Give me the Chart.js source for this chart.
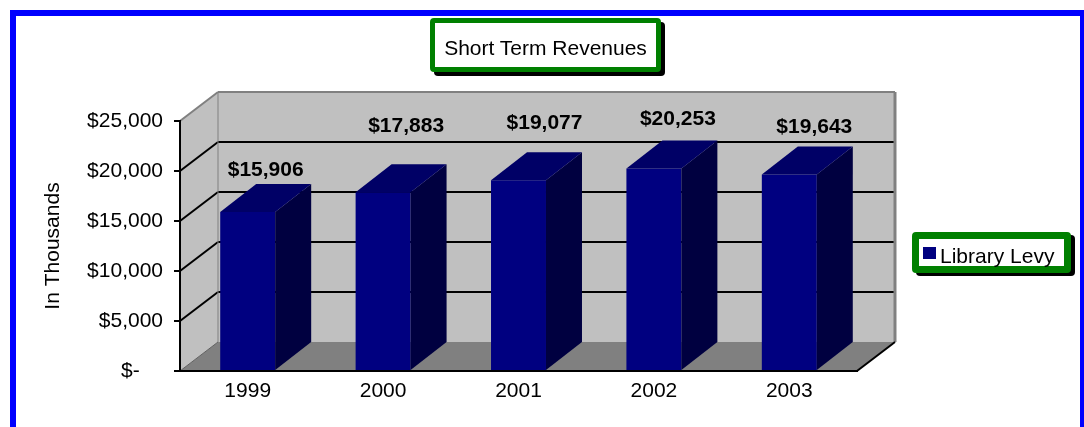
<!DOCTYPE html>
<html>
<head>
<meta charset="utf-8">
<script src="https://cdn.jsdelivr.net/npm/chart.js@4"></script>
<style>
  html, body { margin: 0; padding: 0; background: #fff; overflow: hidden; }
  #wrap { position: relative; width: 1084px; height: 427px; font-family: "Liberation Sans", Arial, sans-serif; }
  #frame { position: absolute; left: 10px; top: 10px; width: 1076px; height: 500px; box-sizing: border-box; border: 6px solid #0000ff; }
  #chart { position: absolute; left: 0; top: 0; }
  #title { position: absolute; left: 430px; top: 18px; width: 231px; height: 54px; box-sizing: border-box;
    border: 5px solid #008000; border-radius: 4px; background: #fff; box-shadow: 4px 4px 0 #000;
    font-size: 21px; line-height: 21px; color: #000; }
  #title span { position: absolute; left: 0; right: 0; top: 14px; text-align: center; white-space: nowrap; }
  #legend { position: absolute; left: 912px; top: 232px; width: 159px; height: 41px; box-sizing: border-box;
    border: 7px solid #008000; border-radius: 4px; background: #fff; box-shadow: 4px 3px 0 #000;
    font-size: 21px; line-height: 21px; color: #000; }
  #legend .sw { position: absolute; left: 4px; top: 8px; width: 13px; height: 12px; background: #000080; }
  #legend .lb { position: absolute; left: 21px; top: 6px; white-space: nowrap; }
</style>
</head>
<body>
<div id="wrap">
  <div id="frame"></div>
  <canvas id="chart" width="1084" height="427"></canvas>
  <div id="title"><span id="titleText"></span></div>
  <div id="legend"><div class="sw"></div><span class="lb" id="legendText"></span></div>
</div>
<script>
const chartTitle = "Short Term Revenues";
const categories = ["1999", "2000", "2001", "2002", "2003"];
const seriesName = "Library Levy";
const libraryLevy = [15906, 17883, 19077, 20253, 19643];
const yTicks = [0, 5000, 10000, 15000, 20000, 25000];

// hand placed value labels (pixel offset from the bar top)
const labelDx = [18, 23, 26, 24, 25];
const labelDy = [-42, -66, -57, -49, -47];

const wallDepth = { dx: 38, dy: -29 };
const barDepth = { dx: 36, dy: -28 };

document.getElementById("titleText").textContent = chartTitle;
document.getElementById("legendText").textContent = seriesName;

Chart.defaults.font.family = "'Liberation Sans', Arial, sans-serif";
Chart.defaults.color = "#000";

const money = (v) => v === 0 ? "$-\u2007\u2007" : "$" + v.toLocaleString("en-US");

const poly = (ctx, pts, fill) => {
  ctx.beginPath();
  ctx.moveTo(pts[0][0], pts[0][1]);
  for (let i = 1; i < pts.length; i++) ctx.lineTo(pts[i][0], pts[i][1]);
  ctx.closePath();
  ctx.fillStyle = fill;
  ctx.fill();
};

const line = (ctx, x1, y1, x2, y2, color, w) => {
  ctx.beginPath();
  ctx.moveTo(x1, y1);
  ctx.lineTo(x2, y2);
  ctx.strokeStyle = color;
  ctx.lineWidth = w;
  ctx.stroke();
};

const walls = {
  id: "walls",
  beforeDraw(chart) {
    const ctx = chart.ctx;
    const { left: L, right: R, top: T, bottom: B } = chart.chartArea;
    const { dx, dy } = wallDepth;
    const ys = chart.scales.y;
    ctx.save();
    poly(ctx, [[L + dx, T + dy], [R + dx, T + dy], [R + dx, B + dy], [L + dx, B + dy]], "#c0c0c0");
    poly(ctx, [[L, B], [L, T], [L + dx, T + dy], [L + dx, B + dy]], "#c0c0c0");
    poly(ctx, [[L, B], [R, B], [R + dx, B + dy], [L + dx, B + dy]], "#808080");
    yTicks.forEach((v) => {
      if (v === 0 || v === yTicks[yTicks.length - 1]) return;
      const y = ys.getPixelForValue(v);
      line(ctx, L + dx, y + dy, R + dx, y + dy, "#000", 2);
      line(ctx, L, y, L + dx, y + dy, "#000", 2);
    });
    line(ctx, L, T, L + dx, T + dy, "#808080", 2);
    line(ctx, L + dx, T + dy, R + dx, T + dy, "#808080", 2);
    line(ctx, R + dx, T + dy, R + dx, B + dy, "#808080", 3);
    line(ctx, L + dx, T + dy, L + dx, B + dy, "#808080", 1);
    line(ctx, L, B, L + dx, B + dy, "#606060", 1);
    line(ctx, R, B, R + dx, B + dy, "#000", 2);
    ctx.restore();
  }
};

const bars3d = {
  id: "bars3d",
  afterDatasetsDraw(chart) {
    const ctx = chart.ctx;
    const { dx, dy } = barDepth;
    const meta = chart.getDatasetMeta(0);
    ctx.save();
    meta.data.forEach((bar, i) => {
      const { x, y, base, width } = bar.getProps(["x", "y", "base", "width"], true);
      const l = x - width / 2, r = x + width / 2;
      poly(ctx, [[r, y], [r + dx, y + dy], [r + dx, base + dy], [r, base]], "#000040");
      poly(ctx, [[l, y], [l + dx, y + dy], [r + dx, y + dy], [r, y]], "#000066");
      ctx.font = "bold 21px 'Liberation Sans', Arial, sans-serif";
      ctx.fillStyle = "#000";
      ctx.textAlign = "center";
      ctx.textBaseline = "middle";
      ctx.fillText(money(libraryLevy[i]), x + labelDx[i], y + labelDy[i]);
    });
    ctx.restore();
  }
};

new Chart(document.getElementById("chart").getContext("2d"), {
  type: "bar",
  data: {
    labels: categories,
    datasets: [
      {
        label: seriesName,
        data: libraryLevy,
        backgroundColor: "#000080",
        borderWidth: 0,
        barPercentage: 0.406,
        categoryPercentage: 1
      }
    ]
  },
  options: {
    responsive: false,
    animation: false,
    layout: { padding: { left: 40, right: 227, top: 121, bottom: 0 } },
    plugins: {
      legend: { display: false },
      tooltip: { enabled: false }
    },
    scales: {
      x: {
        type: "category",
        grid: { display: false, drawTicks: false },
        border: { display: true, color: "#000", width: 2 },
        ticks: { color: "#000", font: { size: 21 }, padding: 8, maxRotation: 0 },
        afterFit: (s) => { s.height = 56; }
      },
      y: {
        min: 0,
        max: 25000,
        afterBuildTicks: (s) => { s.ticks = yTicks.map((v) => ({ value: v })); },
        ticks: { color: "#000", font: { size: 21 }, padding: 11, callback: (v) => money(v) },
        grid: { drawOnChartArea: false, drawTicks: true, tickLength: 6, color: "#000", lineWidth: 2 },
        border: { color: "#000", width: 2 },
        title: { display: true, text: "In Thousands", color: "#000", font: { size: 21 }, padding: { top: 1, bottom: 0 } },
        afterFit: (s) => { s.width = 140; }
      }
    }
  },
  plugins: [walls, bars3d]
});
</script>
</body>
</html>
